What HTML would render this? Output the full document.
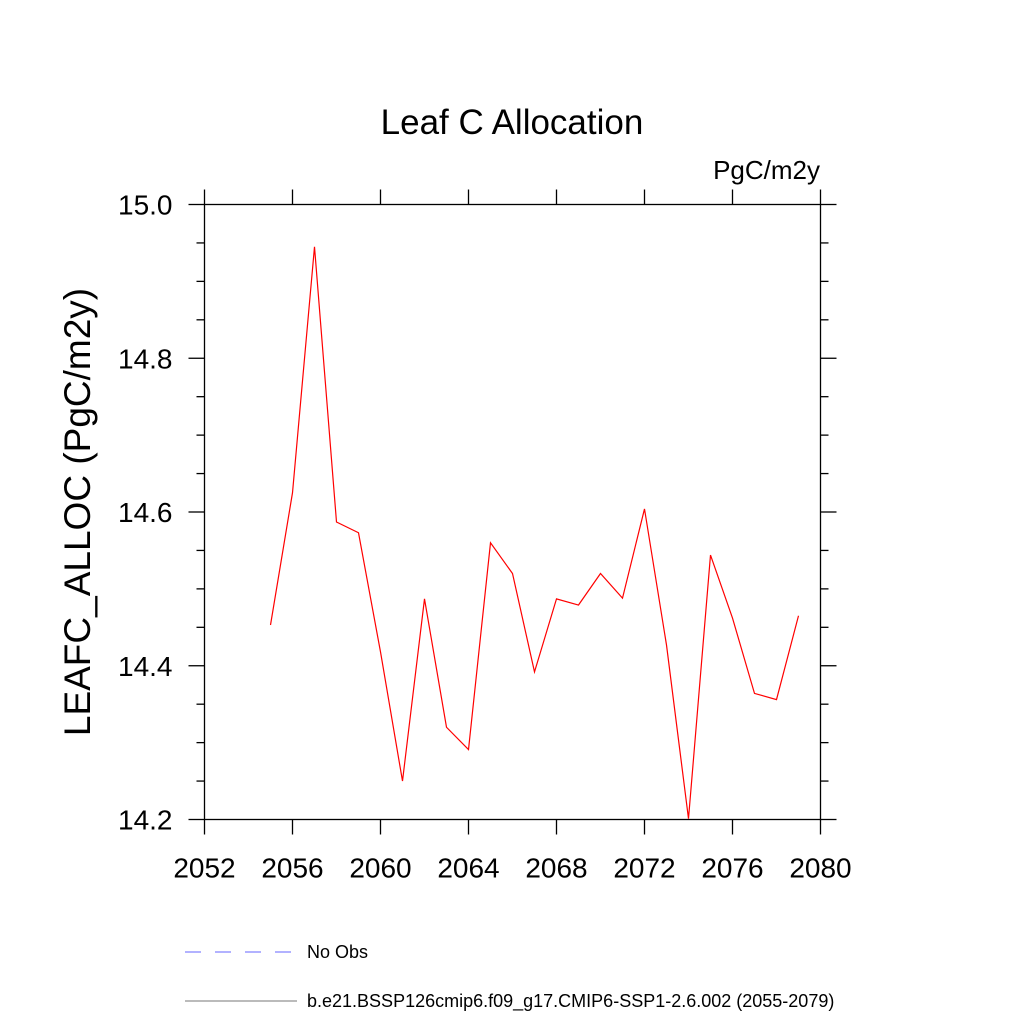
<!DOCTYPE html>
<html><head><meta charset="utf-8"><style>body{margin:0;background:#fff}svg{display:block}text{font-family:"Liberation Sans",sans-serif}</style></head>
<body>
<svg id="chart" width="1024" height="1024" viewBox="0 0 1024 1024">
<text x="512" y="134" font-size="35" text-anchor="middle">Leaf C Allocation</text>
<text x="820" y="179" font-size="26" text-anchor="end">PgC/m2y</text>
<text transform="translate(90,512) rotate(-90)" font-size="37" text-anchor="middle">LEAFC_ALLOC  (PgC/m2y)</text>
<g id="axes"></g>
<polyline id="series" fill="none" stroke="#ff0000" stroke-width="1.2"/>
<g>
<line x1="185" y1="952" x2="292" y2="952" stroke="#6666ff" stroke-width="1" stroke-dasharray="16,14"/>
<text x="307" y="958" font-size="18">No Obs</text>
<line x1="185" y1="1001" x2="297" y2="1001" stroke="#777" stroke-width="1"/>
<text x="307" y="1007" font-size="18">b.e21.BSSP126cmip6.f09_g17.CMIP6-SSP1-2.6.002 (2055-2079)</text>
</g>
</svg>
<script>
const years=[2055,2056,2057,2058,2059,2060,2061,2062,2063,2064,2065,2066,2067,2068,2069,2070,2071,2072,2073,2074,2075,2076,2077,2078,2079];
const values=[14.453,14.625,14.945,14.587,14.573,14.418,14.25,14.487,14.32,14.291,14.56,14.52,14.392,14.487,14.479,14.52,14.488,14.604,14.427,14.201,14.544,14.462,14.364,14.356,14.465];
const xTicks=[2052,2056,2060,2064,2068,2072,2076,2080];
const yTicks=["14.2","14.4","14.6","14.8","15.0"];
const X0=204.5,X1=820.5,Y0=819.5,Y1=204.5;
const xs=v=>X0+(v-2052)/(2080-2052)*(X1-X0);
const ys=v=>Y0-(v-14.2)/(15.0-14.2)*(Y0-Y1);
const ns="http://www.w3.org/2000/svg";
const g=document.getElementById('axes');
function ln(x1,y1,x2,y2,name){const l=document.createElementNS(ns,'line');l.setAttribute('x1',x1);l.setAttribute('y1',y1);l.setAttribute('x2',x2);l.setAttribute('y2',y2);l.setAttribute('stroke','#000');l.setAttribute('stroke-width','1.3');


g.appendChild(l);}
function tx(x,y,s,anchor,name){const t=document.createElementNS(ns,'text');t.setAttribute('x',x);t.setAttribute('y',y);t.setAttribute('font-size','28');t.setAttribute('text-anchor',anchor);t.textContent=s;


g.appendChild(t);}
const r=document.createElementNS(ns,'rect');r.setAttribute('x',X0);r.setAttribute('y',Y1);r.setAttribute('width',X1-X0);r.setAttribute('height',Y0-Y1);r.setAttribute('fill','none');r.setAttribute('stroke','#000');r.setAttribute('stroke-width','1.3');


g.appendChild(r);
xTicks.forEach(v=>{const x=xs(v);ln(x,Y0,x,Y0+15,'x-tick');ln(x,Y1,x,Y1-15,'x-tick-top');tx(x,Y0+58,String(v),'middle','x-tick-label');});
for(let i=0;i<=16;i++){const v=14.2+i*0.05;const y=ys(v);const major=i%4===0;const L=major?16:8;ln(X0,y,X0-L,y,'y-tick');ln(X1,y,X1+L,y,'y-tick-right');}
yTicks.forEach(s=>{tx(X0-32,ys(parseFloat(s))+10,s,'end','y-tick-label');});
document.getElementById('series').setAttribute('points',years.map((y,i)=>xs(y)+','+ys(values[i])).join(' '));
</script>
</body></html>
